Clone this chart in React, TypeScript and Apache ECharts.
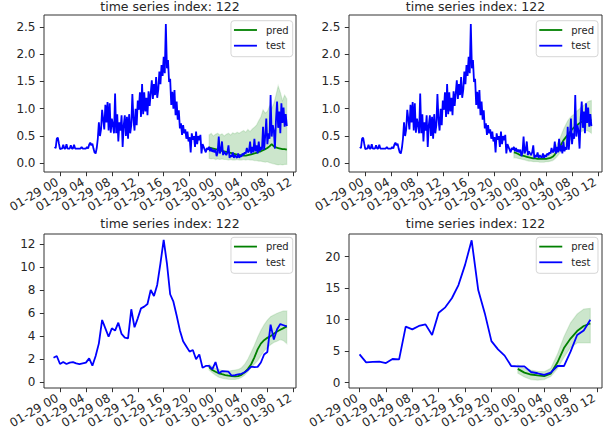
import React, { useEffect, useRef } from 'react';
import * as echarts from 'echarts';

// x positions are hours counted from 01-29 00:00
const xTickHours = [0, 4, 8, 12, 16, 20, 24, 28, 32, 36];
const xTickLabels = ['01-29 00', '01-29 04', '01-29 08', '01-29 12', '01-29 16', '01-29 20', '01-30 00', '01-30 04', '01-30 08', '01-30 12'];

const yTicksTop = [0, 0.5, 1.0, 1.5, 2.0, 2.5];
const yTicksBL = [0, 2, 4, 6, 8, 10, 12];
const yTicksBR = [0, 5, 10, 15, 20];

const titleText = 'time series index: 122';

// test series, 10-minute steps from 01-28 23:10
const testFineStart = -5 / 6;
const testFineStep = 1 / 6;
const testFine = [
  0.30, 0.28, 0.45, 0.47, 0.36, 0.26,
  0.27, 0.27, 0.34, 0.27, 0.27, 0.35,
  0.27, 0.27, 0.27, 0.33, 0.27, 0.27,
  0.34, 0.27, 0.27, 0.27, 0.27, 0.27,
  0.27, 0.30, 0.27, 0.27, 0.27, 0.27,
  0.30, 0.27, 0.34, 0.38, 0.33, 0.36,
  0.27, 0.20, 0.18, 0.28, 0.45, 0.75,
  0.50, 0.62, 0.98, 0.80, 0.62, 1.07,
  0.75, 1.12, 0.60, 1.10, 0.56, 0.82,
  0.70, 0.55, 1.28, 0.55, 0.90, 0.40,
  0.75, 0.60, 0.88, 0.30, 0.70, 0.88,
  0.50, 0.85, 0.45, 0.90, 0.55, 0.70,
  1.27, 0.80, 0.60, 1.00, 0.70, 1.15,
  0.98, 1.30, 0.85, 1.45, 0.90, 1.30,
  0.95, 1.20, 0.88, 1.32, 1.05, 1.28,
  1.52, 1.18, 1.45, 1.25, 1.58, 1.20,
  1.35, 1.68, 1.45, 1.80, 1.60, 1.95,
  1.65, 2.55, 1.74, 1.89, 1.49, 1.55,
  1.07, 1.31, 1.00, 1.34, 0.88, 1.13,
  0.80, 0.97, 0.64, 0.73, 0.52, 0.70,
  0.55, 0.62, 0.45, 0.58, 0.40, 0.48,
  0.20, 0.55, 0.43, 0.50, 0.30, 0.58,
  0.35, 0.50, 0.42, 0.52, 0.18, 0.35,
  0.30, 0.25, 0.20, 0.28, 0.25, 0.30,
  0.22, 0.28, 0.21, 0.25, 0.20, 0.25,
  0.13, 0.20, 0.49, 0.18, 0.24, 0.40,
  0.15, 0.22, 0.18, 0.15, 0.20, 0.33,
  0.10, 0.15, 0.12, 0.20, 0.10, 0.15,
  0.12, 0.10, 0.18, 0.10, 0.15, 0.12,
  0.18, 0.15, 0.20, 0.18, 0.28, 0.20,
  0.22, 0.40, 0.18, 0.30, 0.20, 0.45,
  0.22, 0.33, 0.18, 0.40, 0.22, 0.30,
  0.25, 0.67, 0.25, 0.50, 0.82, 0.35,
  0.55, 0.45, 1.25, 0.49, 0.70, 0.60,
  0.27, 0.80, 1.13, 0.65, 0.95, 0.55,
  1.10, 0.74, 1.02, 0.67, 0.90, 0.68,
];

// predictions for the top panels, 20-minute steps from 01-29 23:00
const predTopStart = 23;
const predTopStep = 1 / 3;
const predTL = [0.29, 0.28, 0.27, 0.26, 0.25, 0.24, 0.23, 0.22, 0.21, 0.20, 0.19, 0.18, 0.17, 0.16, 0.15, 0.15, 0.14, 0.14, 0.15, 0.16, 0.17, 0.18, 0.19, 0.21, 0.22, 0.24, 0.26, 0.28, 0.31, 0.35, 0.31, 0.29, 0.28, 0.27, 0.26, 0.26, 0.25];
const upperTL = [0.52, 0.55, 0.50, 0.53, 0.55, 0.52, 0.54, 0.50, 0.53, 0.55, 0.52, 0.56, 0.54, 0.57, 0.55, 0.58, 0.60, 0.57, 0.62, 0.58, 0.63, 0.66, 0.70, 0.78, 0.85, 0.98, 0.92, 0.95, 1.05, 1.00, 1.10, 1.25, 1.42, 1.30, 1.15, 1.25, 1.18];
const lowerTL = [0.09, 0.08, 0.09, 0.07, 0.08, 0.07, 0.08, 0.07, 0.07, 0.06, 0.07, 0.06, 0.06, 0.07, 0.06, 0.06, 0.07, 0.06, 0.07, 0.06, 0.06, 0.05, 0.05, 0.04, 0.04, 0.03, 0.02, 0.03, 0.01, 0.00, -0.01, -0.02, -0.03, -0.02, -0.03, -0.02, -0.02];

const predTR = [0.20, 0.19, 0.17, 0.15, 0.14, 0.13, 0.12, 0.11, 0.10, 0.09, 0.09, 0.08, 0.08, 0.08, 0.08, 0.08, 0.09, 0.10, 0.12, 0.16, 0.22, 0.28, 0.35, 0.42, 0.47, 0.52, 0.57, 0.62, 0.66, 0.69, 0.72, 0.75, 0.77, 0.78, 0.79, 0.79, 0.79];
const upperTR = [0.30, 0.27, 0.24, 0.22, 0.20, 0.18, 0.17, 0.16, 0.15, 0.15, 0.15, 0.14, 0.14, 0.15, 0.15, 0.16, 0.18, 0.20, 0.22, 0.28, 0.35, 0.42, 0.52, 0.62, 0.70, 0.78, 0.83, 0.87, 0.90, 0.95, 0.98, 1.02, 1.05, 1.08, 1.12, 1.14, 1.15];
const lowerTR = [0.10, 0.10, 0.09, 0.08, 0.07, 0.06, 0.05, 0.04, 0.04, 0.03, 0.03, 0.03, 0.02, 0.02, 0.02, 0.03, 0.03, 0.04, 0.05, 0.08, 0.12, 0.17, 0.22, 0.28, 0.33, 0.38, 0.42, 0.46, 0.50, 0.53, 0.56, 0.58, 0.59, 0.60, 0.60, 0.58, 0.55];

// bottom-left: 30-minute steps from 01-28 23:00
const testHalfStart = -1;
const testHalfStep = 0.5;
const testHalf = [
  2.12, 2.27, 1.57, 1.74, 1.57, 1.69, 1.74, 1.63, 1.57, 1.63,
  1.69, 2.06, 1.42, 2.27, 3.37, 5.41, 4.68, 3.95, 4.68, 4.48,
  5.17, 4.19, 3.87, 3.81, 6.34, 4.77, 5.55, 6.42, 6.57, 6.80,
  8.02, 7.50, 8.46, 10.35, 12.38, 10.35, 7.65, 7.00, 5.80, 4.50,
  3.55, 3.10, 2.65, 2.79, 1.98, 2.41, 1.25, 1.40, 1.40, 1.10,
  1.74, 0.76, 0.95, 0.93, 0.90, 0.55, 0.60, 0.66, 0.72, 0.85,
  1.05, 1.34, 1.30, 1.32, 1.70, 2.40, 2.62, 5.00, 3.70, 4.60,
  5.05, 4.95, 4.85,
];
const predBLStart = 23;
const predBLStep = 0.5;
const predBL = [1.30, 1.05, 0.90, 0.76, 0.68, 0.61, 0.55, 0.52, 0.50, 0.52, 0.62, 0.85, 1.15, 1.55, 2.15, 2.85, 3.35, 3.65, 3.85, 4.00, 4.20, 4.40, 4.55, 4.70, 4.85];
const upperBL = [1.55, 1.35, 1.20, 1.10, 1.00, 0.98, 0.95, 1.00, 1.05, 1.10, 1.25, 1.55, 2.00, 2.60, 3.20, 3.90, 4.50, 5.00, 5.40, 5.70, 5.85, 6.00, 6.10, 6.20, 6.20];
const lowerBL = [1.05, 0.80, 0.60, 0.42, 0.33, 0.28, 0.24, 0.22, 0.22, 0.28, 0.40, 0.60, 0.90, 1.25, 1.55, 1.85, 2.30, 2.70, 3.00, 3.25, 3.45, 3.55, 3.70, 3.60, 3.35];

// bottom-right: hourly from 01-29 00:00
const testHourStart = 0;
const testHourStep = 1;
const testHour = [
  4.50, 3.23, 3.30, 3.33, 3.12, 3.76, 3.70, 8.90, 8.47, 9.00,
  9.26, 7.57, 11.10, 11.96, 13.40, 15.50, 18.70, 22.60, 14.70, 11.00,
  6.60, 5.30, 4.30, 2.65, 2.60, 2.60, 1.70, 1.50, 1.25, 1.60,
  2.65, 2.65, 4.92, 7.57, 8.30, 10.00,
];
const predBRStart = 24;
const predBRStep = 1;
const predBR = [2.20, 1.60, 1.30, 1.15, 1.05, 1.45, 3.20, 5.50, 7.00, 8.20, 9.00, 9.40];
const upperBR = [2.80, 2.30, 2.00, 1.80, 1.75, 2.30, 4.50, 7.30, 9.50, 10.90, 11.70, 11.80];
const lowerBR = [1.50, 0.90, 0.50, 0.40, 0.50, 1.00, 2.20, 4.00, 5.60, 6.30, 6.30, 6.30];

const FONT = 'DejaVu Sans';
const TEXT = '#262626';
const SPINE = '#333333';
const TEST_COLOR = '#0000ff';
const PRED_COLOR = '#008000';
const BAND_COLOR = 'rgba(0,128,0,0.2)';
const BAND_EDGE = 'rgba(0,128,0,0.12)';

const pts = (start: number, step: number, vals: number[]) => vals.map((v, i) => [start + i * step, v]);

const panels = [
  {
    grid: { left: 44, top: 15, width: 252, height: 157 },
    xMin: -2.47, xMax: 36.42, yMin: -0.159, yMax: 2.716, yTicks: yTicksTop, yDec: 1,
    test: pts(testFineStart, testFineStep, testFine),
    predStart: predTopStart, predStep: predTopStep, pred: predTL, upper: upperTL, lower: lowerTL,
    legend: { right: 320.3, top: 20.7 }, title: { x: 170, y: 6.5 },
  },
  {
    grid: { left: 349, top: 15, width: 253, height: 157 },
    xMin: -2.52, xMax: 36.64, yMin: -0.159, yMax: 2.716, yTicks: yTicksTop, yDec: 1,
    test: pts(testFineStart, testFineStep, testFine),
    predStart: predTopStart, predStep: predTopStep, pred: predTR, upper: upperTR, lower: lowerTR,
    legend: { right: 15, top: 20.7 }, title: { x: 475.5, y: 6.5 },
  },
  {
    grid: { left: 44, top: 234, width: 252, height: 154 },
    xMin: -2.47, xMax: 36.42, yMin: -0.52, yMax: 12.9, yTicks: yTicksBL, yDec: 0,
    test: pts(testHalfStart, testHalfStep, testHalf),
    predStart: predBLStart, predStep: predBLStep, pred: predBL, upper: upperBL, lower: lowerBL,
    legend: { right: 320.3, top: 237.3 }, title: { x: 170, y: 223 },
  },
  {
    grid: { left: 349, top: 234, width: 253, height: 154 },
    xMin: -1.6, xMax: 36.77, yMin: -0.84, yMax: 23.6, yTicks: yTicksBR, yDec: 0,
    test: pts(testHourStart, testHourStep, testHour),
    predStart: predBRStart, predStep: predBRStep, pred: predBR, upper: upperBR, lower: lowerBR,
    legend: { right: 15, top: 237.3 }, title: { x: 475.5, y: 223 },
  },
];

function buildOption() {
  const grid: any[] = [];
  const xAxis: any[] = [];
  const yAxis: any[] = [];
  const series: any[] = [];
  const legend: any[] = [];
  const graphic: any[] = [];

  panels.forEach((p, i) => {
    grid.push({ ...p.grid, show: true, borderColor: SPINE, borderWidth: 1, backgroundColor: 'transparent' });
    xAxis.push({
      type: 'value', gridIndex: i, min: p.xMin, max: p.xMax,
      axisLine: { show: false, onZero: false },
      splitLine: { show: false },
      axisTick: { show: true, customValues: xTickHours, length: 4.2, lineStyle: { color: SPINE, width: 1 } },
      axisLabel: {
        customValues: xTickHours,
        formatter: (v: number) => {
          const k = xTickHours.findIndex((t) => Math.abs(t - v) < 1e-6);
          return k >= 0 ? xTickLabels[k] : '';
        },
        rotate: 30, margin: 7.5, padding: [0, 3, 0, 0],
        fontSize: 12, fontFamily: FONT, color: TEXT,
      },
    });
    yAxis.push({
      type: 'value', gridIndex: i, min: p.yMin, max: p.yMax,
      axisLine: { show: false, onZero: false },
      splitLine: { show: false },
      axisTick: { show: true, customValues: p.yTicks, length: 4.2, lineStyle: { color: SPINE, width: 1 } },
      axisLabel: {
        customValues: p.yTicks,
        formatter: (v: number) => v.toFixed(p.yDec),
        margin: 8.5, fontSize: 12, fontFamily: FONT, color: TEXT,
      },
    });

    const xs = p.upper.map((_, k) => p.predStart + k * p.predStep);
    series.push({
      type: 'custom', name: 'band-' + i, xAxisIndex: i, yAxisIndex: i, silent: true, z: 1,
      data: xs.map((x, k) => [x, p.lower[k], p.upper[k]]),
      encode: { x: 0, y: [1, 2] },
      renderItem: (params: any, api: any) => {
        if (params.dataIndex !== 0) return null;
        const top = xs.map((x, k) => api.coord([x, p.upper[k]]));
        const bot = xs.map((x, k) => api.coord([x, p.lower[k]])).reverse();
        return {
          type: 'polygon',
          shape: { points: top.concat(bot) },
          style: { fill: BAND_COLOR, stroke: BAND_EDGE, lineWidth: 1.2 },
        };
      },
    });
    series.push({
      type: 'line', name: 'pred', xAxisIndex: i, yAxisIndex: i,
      data: pts(p.predStart, p.predStep, p.pred),
      symbol: 'none', color: PRED_COLOR, lineStyle: { color: PRED_COLOR, width: 1.8 }, z: 2,
    });
    series.push({
      type: 'line', name: 'test', xAxisIndex: i, yAxisIndex: i, data: p.test,
      symbol: 'none', color: TEST_COLOR, lineStyle: { color: TEST_COLOR, width: 1.8 }, z: 3,
    });

    legend.push({
      data: ['pred', 'test'], orient: 'vertical', right: p.legend.right, top: p.legend.top,
      icon: 'rect', itemWidth: 23, itemHeight: 1.8, itemGap: 3.7,
      padding: [3.3, 4, 5, 3], selectedMode: false,
      backgroundColor: 'rgba(255,255,255,0.8)', borderColor: 'rgba(204,204,204,0.8)', borderWidth: 1, borderRadius: 3,
      textStyle: { fontSize: 10, fontFamily: FONT, color: TEXT, lineHeight: 12, padding: [0, 0, 0, 4] },
    });

    graphic.push({
      type: 'text', x: p.title.x, y: p.title.y, silent: true,
      style: {
        text: titleText, font: `12.5px "${FONT}"`, fill: TEXT,
        align: 'center', verticalAlign: 'middle', textAlign: 'center', textVerticalAlign: 'middle',
      },
    });
  });

  return {
    animation: false,
    backgroundColor: '#ffffff',
    textStyle: { fontFamily: FONT },
    grid, xAxis, yAxis, series, legend, graphic,
  };
}

export default function App() {
  const ref = useRef<HTMLDivElement>(null);
  useEffect(() => {
    if (!ref.current) return;
    const chart = echarts.init(ref.current, null, { renderer: 'svg' });
    chart.setOption(buildOption() as any);
    return () => chart.dispose();
  }, []);
  return (
    <div
      ref={ref}
      style={{ position: 'fixed', left: 0, top: 0, width: 613, height: 434, background: '#ffffff' }}
    />
  );
}
